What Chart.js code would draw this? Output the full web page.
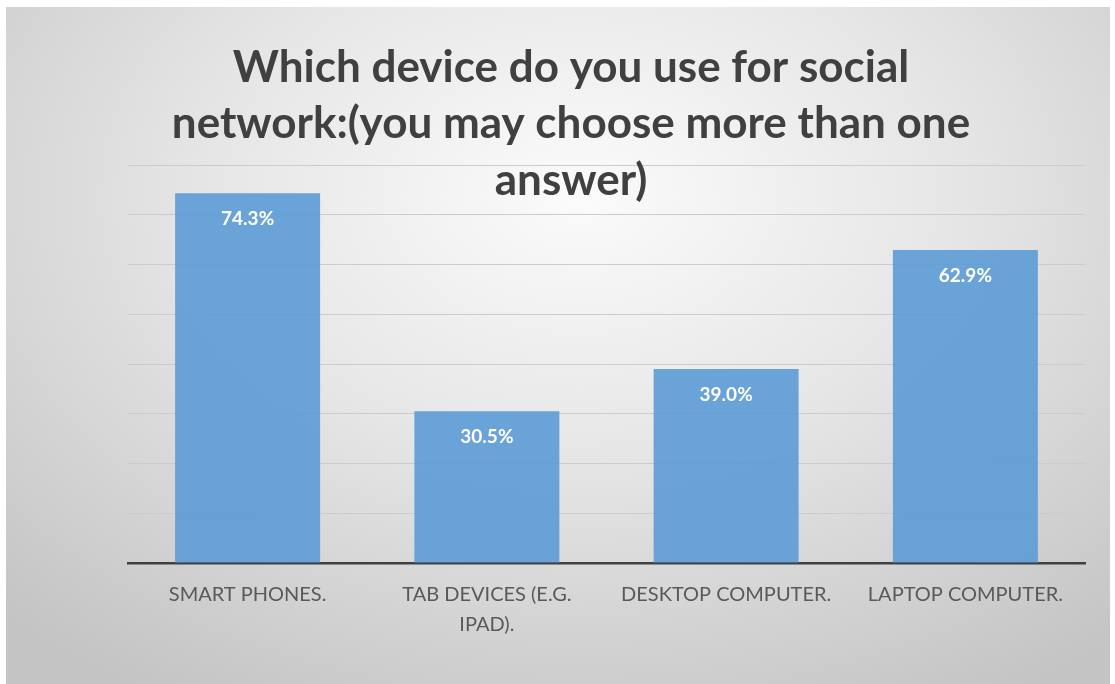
<!DOCTYPE html>
<html>
<head>
<meta charset="utf-8">
<script src="https://cdn.jsdelivr.net/npm/chart.js@4.4.0/dist/chart.umd.min.js"></script>
<style>
  html, body { margin: 0; padding: 0; background: #fff; }
  #wrap {
    position: absolute; left: 6px; top: 7px; width: 1104px; height: 677px;
    background: radial-gradient(ellipse 75% 85% at 52% 28%, #fbfbfb 0%, #e6e6e6 45%, #c4c4c4 100%);
  }
  #c { position: absolute; left: -6px; top: -7px; }
</style>
</head>
<body>
<div id="wrap"><canvas id="c" width="1115" height="684"></canvas></div>
<script>
const titleLines = ['Which device do you use for social', 'network:(you may choose more than one', 'answer)'];
const categories = [['SMART PHONES.'], ['TAB DEVICES (E.G.', 'IPAD).'], ['DESKTOP COMPUTER.'], ['LAPTOP COMPUTER.']];
const values = [74.3, 30.5, 39.0, 62.9];
const yTicks = [0, 10, 20, 30, 40, 50, 60, 70, 80];

const fontFamily = 'Lato, "Open Sans", sans-serif';

// title sits over the plot area, like the original, so draw it by hand
const overlayTitle = {
    id: 'overlayTitle',
    afterDraw(chart) {
        const ctx = chart.ctx;
        ctx.save();
        ctx.fillStyle = '#404040';
        ctx.font = 'bold 44px ' + fontFamily;
        ctx.textAlign = 'center';
        ctx.textBaseline = 'alphabetic';
        const baselines = [82, 138, 195];
        titleLines.forEach((t, i) => ctx.fillText(t, 571, baselines[i]));
        ctx.restore();
    }
};

// value labels inside the top of each bar
const barLabels = {
    id: 'barLabels',
    afterDatasetsDraw(chart) {
        const ctx = chart.ctx;
        const meta = chart.getDatasetMeta(0);
        ctx.save();
        ctx.fillStyle = '#ffffff';
        ctx.font = 'bold 19px ' + fontFamily;
        ctx.textAlign = 'center';
        ctx.textBaseline = 'middle';
        meta.data.forEach((bar, i) => {
            ctx.fillText(values[i].toFixed(1) + '%', bar.x, bar.y + 26);
        });
        ctx.restore();
    }
};

new Chart(document.getElementById('c'), {
    type: 'bar',
    data: {
        labels: categories,
        datasets: [{
            data: values,
            backgroundColor: 'rgba(91, 155, 213, 0.9)',
            borderWidth: 0,
            categoryPercentage: 1,
            barPercentage: 0.606
        }]
    },
    options: {
        responsive: false,
        animation: false,
        layout: { padding: { left: 128, right: 30, top: 165, bottom: 0 } },
        plugins: {
            legend: { display: false },
            title: { display: false },
            tooltip: { enabled: false }
        },
        scales: {
            x: {
                grid: { display: false },
                border: { display: true, color: '#404040', width: 2.5 },
                ticks: {
                    color: '#595959',
                    font: { family: fontFamily, size: 20, lineHeight: 1.5 },
                    padding: 9,
                    maxRotation: 0
                },
                afterFit(scale) { scale.height = 121; }
            },
            y: {
                min: 0,
                max: 80,
                afterBuildTicks(scale) { scale.ticks = yTicks.map(v => ({ value: v })); },
                ticks: { display: false },
                grid: { color: '#cccccc', lineWidth: 1, drawTicks: false },
                border: { display: false },
                afterFit(scale) { scale.width = 0; }
            }
        }
    },
    plugins: [overlayTitle, barLabels]
});
</script>
</body>
</html>
